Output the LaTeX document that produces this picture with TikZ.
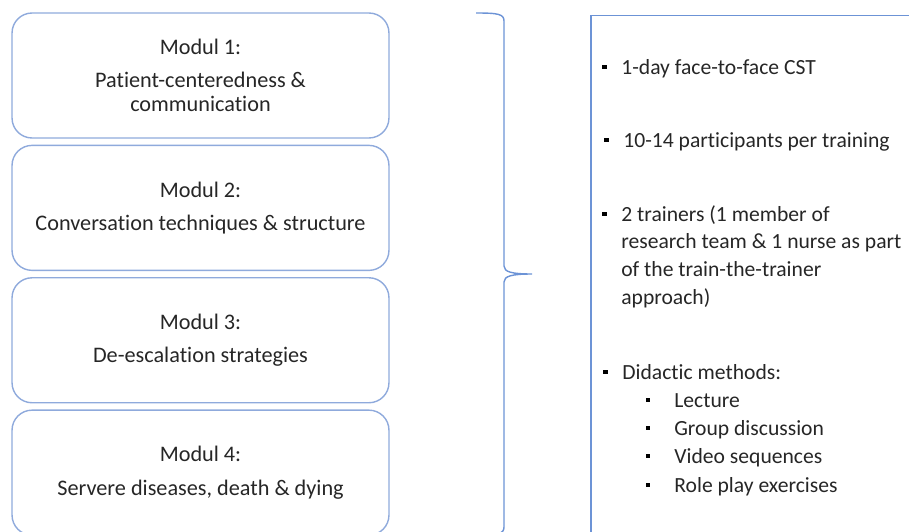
\documentclass[tikz,border=0pt]{standalone}
\usepackage{fontspec}
\setmainfont{Carlito}[Ligatures=NoCommon]
\usepackage{tikz}
\usetikzlibrary{positioning}
\definecolor{ModulBlue}{HTML}{8FAADC}
\definecolor{BraceBlue}{HTML}{6C93D6}
\definecolor{TextGray}{HTML}{262626}

\begin{document}
\begin{tikzpicture}[
  x=0.02cm, y=-0.02cm,
  modul/.style={rectangle, rounded corners=0.4cm, draw=ModulBlue,
    line width=0.8pt, minimum width=7.54cm, minimum height=2.5cm,
    text=TextGray, align=center, font=\fontsize{12.65}{13.8}\selectfont},
  entry/.style={anchor=base west, inner sep=0pt, text=TextGray,
    font=\fontsize{12.3}{15.9}\selectfont},
  sq/.style={rectangle, fill=black, inner sep=0pt, minimum size=0.09cm},
  brace/.style={draw=BraceBlue, line width=0.8pt},
  node distance=0.12cm
]
\useasboundingbox (0,0) rectangle (909,531);
\clip (0,0) rectangle (909,531);

%% Left column -- the four modules
\node[modul] (m1) at (200.5,75.5) {Modul 1:\\[5.2pt]Patient-centeredness \&\\communication};
\node[modul, below=of m1] (m2) {Modul 2:\\[5.2pt]Conversation techniques \& structure};
\node[modul, below=of m2] (m3) {Modul 3:\\[5.2pt]De-escalation strategies};
\node[modul, below=of m3] (m4) {Modul 4:\\[5.2pt]Servere diseases, death \& dying};

%% Brace
\draw[brace] (476,13) .. controls (498,13) and (504,14) .. (504,21)
  -- (504,266) .. controls (504,272) and (512,274) .. (532,274)
  .. controls (512,274) and (504,276) .. (504,282)
  -- (504,527) .. controls (504,534) and (498,535) .. (476,535);

%% Right panel
\draw[brace] (591,15.5) rectangle (940,560);

\node[entry] (e1) at (621,74)  {1-day face-to-face CST};
\node[entry] (e2) at (623,147) {10-14 participants per training};
\node[entry] (e3) at (621,221) {\begin{tabular}[t]{@{}l@{}}2 trainers (1 member of\\research team \& 1 nurse as part\\of the train-the-trainer\\approach)\end{tabular}};
\node[entry] (e4) at (622,379) {Didactic methods:};
\node[entry] (s1) at (674,407) {Lecture};
\node[entry] (s2) at (674,435) {Group discussion};
\node[entry] (s3) at (674,463) {Video sequences};
\node[entry] (s4) at (674,492) {Role play exercises};

%% Bullets
\foreach \e in {e1,e2,e3,e4}
  \node[sq] (b-\e) at ([xshift=-0.33cm, yshift=0.14cm]\e.base west) {};
\foreach \s in {s1,s2,s3,s4}
  \node[sq] (b-\s) at ([xshift=-0.52cm, yshift=0.14cm]\s.base west) {};

\end{tikzpicture}
\end{document}
